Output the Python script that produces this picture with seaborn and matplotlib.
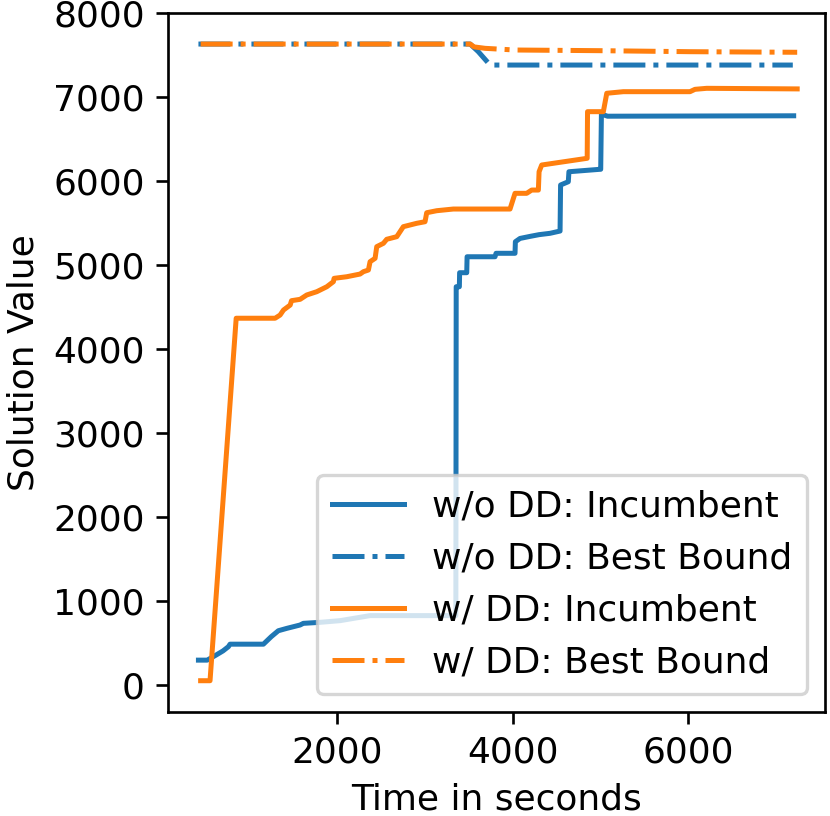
import matplotlib
matplotlib.use("Agg")
import matplotlib.pyplot as plt
import seaborn as sns
import pandas as pd

# ---- data ----
wo_inc_t = [420, 520, 620, 700, 761, 780, 1160, 1250, 1330, 1426, 1577, 1615, 1805,
            2033, 2375, 3352, 3356, 3392, 3395, 3476, 3480, 3798, 3810, 4026, 4030,
            4083, 4200, 4300, 4425, 4539, 4545, 4633, 4640, 4994, 5002, 5010, 5080, 7200]
wo_inc_v = [300, 300, 360, 410, 460, 490, 490, 580, 650, 678, 718, 738, 750,
            770, 830, 830, 4745, 4745, 4912, 4912, 5102, 5102, 5143, 5143, 5281,
            5320, 5345, 5365, 5381, 5408, 5956, 5995, 6114, 6143, 6143, 6800, 6775, 6780]

wo_bnd_t = [420, 3515, 3608, 3742, 7190]
wo_bnd_v = [7634, 7634, 7543, 7384, 7384]

w_inc_t = [445, 552, 850, 1293, 1350, 1389, 1465, 1480, 1578, 1654, 1768, 1882, 1957,
           1965, 2109, 2261, 2299, 2356, 2375, 2432, 2451, 2527, 2565, 2679, 2754,
           2906, 3001, 3020, 3134, 3323, 3969, 4026, 4159, 4216, 4292, 4300, 4330,
           4848, 4852, 5032, 5071, 5260, 6019, 6076, 6209, 7240]
w_inc_v = [55, 55, 4370, 4370, 4408, 4468, 4527, 4579, 4595, 4647, 4686, 4745, 4805,
           4845, 4864, 4896, 4924, 4944, 5043, 5083, 5222, 5262, 5310, 5341, 5460,
           5500, 5519, 5626, 5650, 5670, 5670, 5857, 5857, 5896, 5896, 6114, 6194,
           6274, 6829, 6829, 7048, 7067, 7067, 7095, 7107, 7100]

w_bnd_t = [445, 3515, 3560, 3685, 4026, 5000, 6019, 7240]
w_bnd_v = [7634, 7634, 7600, 7583, 7563, 7555, 7543, 7536]

labels = ["w/o DD: Incumbent", "w/o DD: Best Bound", "w/ DD: Incumbent", "w/ DD: Best Bound"]
colors = ["#1f77b4", "#1f77b4", "#ff7f0e", "#ff7f0e"]
styles = ["-", "-.", "-", "-."]

plt.rcParams["font.family"] = ["DejaVu Sans"]
plt.rcParams["font.size"] = 10.8

dpi = 240
fig = plt.figure(figsize=(830 / dpi, 816 / dpi), dpi=dpi)
ax = fig.add_axes([0.2028, 0.1278, 0.994 - 0.2028, 0.9837 - 0.1278])

series = [(wo_inc_t, wo_inc_v), (wo_bnd_t, wo_bnd_v), (w_inc_t, w_inc_v), (w_bnd_t, w_bnd_v)]
for (t, v), lab, c, ls in zip(series, labels, colors, styles):
    df = pd.DataFrame({"t": t, "v": v})
    sns.lineplot(data=df, x="t", y="v", estimator=None, sort=False, color=c,
                 linestyle=ls, linewidth=1.5, label=lab, ax=ax)

ax.set_xlim(77, 7557)
ax.set_ylim(-314, 8000)
ax.set_xticks([2000, 4000, 6000])
ax.set_yticks([0, 1000, 2000, 3000, 4000, 5000, 6000, 7000, 8000])
ax.set_xlabel("Time in seconds")
ax.set_ylabel("Solution Value")
ax.legend(loc="lower right")

fig.savefig("out.png", dpi=dpi)
